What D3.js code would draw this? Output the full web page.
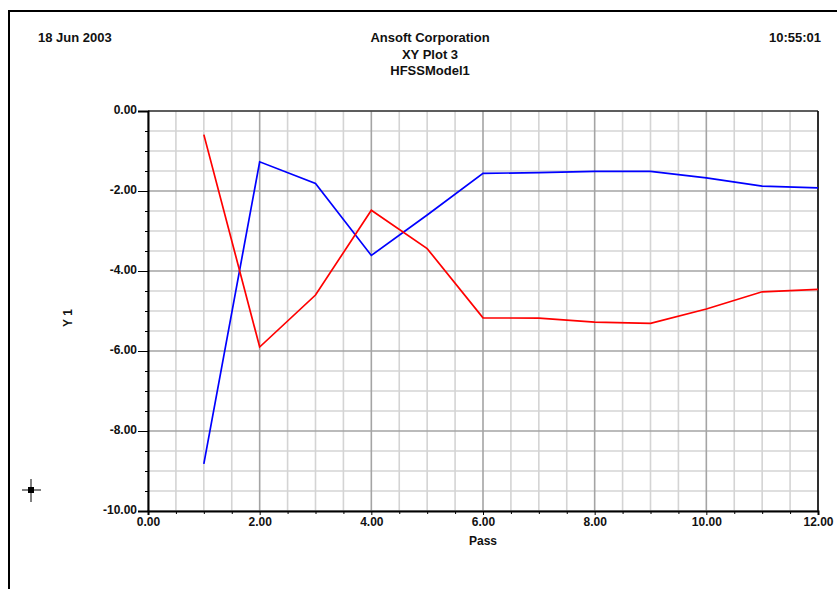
<!DOCTYPE html>
<html><head><meta charset="utf-8">
<script src="https://cdn.jsdelivr.net/npm/d3@7"></script>
<style>body{margin:0;background:#fff;}svg{display:block;}text{font-family:"Liberation Sans",Arial,sans-serif;font-weight:bold;fill:#111;}</style>
</head><body><svg id="c" width="837" height="589"></svg>
<script>
const passes = [1,2,3,4,5,6,7,8,9,10,11,12];
const blueVals = [-8.82,-1.27,-1.81,-3.61,-2.6,-1.56,-1.54,-1.51,-1.51,-1.67,-1.88,-1.92];
const redVals = [-0.59,-5.9,-4.6,-2.48,-3.44,-5.17,-5.18,-5.28,-5.31,-4.95,-4.52,-4.46];
const xTicks = [0,2,4,6,8,10,12];
const yTicks = [0,-2,-4,-6,-8,-10];
const titleLines = ["Ansoft Corporation","XY Plot 3","HFSSModel1"];
const dateText = "18 Jun 2003", timeText = "10:55:01";

const svg = d3.select("#c");
const L=148,R=818,T=111,B=511;
const x = d3.scaleLinear().domain([0,12]).range([L,R]);
const y = d3.scaleLinear().domain([-10,0]).range([B,T]);

// outer frame
svg.append("rect").attr("x",9).attr("y",11).attr("width",900).attr("height",700)
  .attr("fill","none").attr("stroke","#000").attr("stroke-width",2);

// header
svg.append("text").attr("x",38).attr("y",42).attr("font-size",13).text(dateText);
svg.append("text").attr("x",821).attr("y",42).attr("font-size",13).attr("text-anchor","end").text(timeText);
titleLines.forEach((t,i)=>svg.append("text").attr("x",430).attr("y",42+16.5*i)
  .attr("font-size",13).attr("text-anchor","middle").text(t));

// grid
const g = svg.append("g");
const minorX = d3.range(0,12.01,0.5), minorY = d3.range(-10,0.01,0.5);
g.selectAll(".mx").data(minorX.filter(v=>v%2!==0)).join("line")
  .attr("x1",d=>x(d)).attr("x2",d=>x(d)).attr("y1",T).attr("y2",B)
  .attr("stroke","#d4d4d4").attr("stroke-width",1.6);
g.selectAll(".my").data(minorY.filter(v=>v%2!==0)).join("line")
  .attr("y1",d=>y(d)).attr("y2",d=>y(d)).attr("x1",L).attr("x2",R)
  .attr("stroke","#d4d4d4").attr("stroke-width",1.6);
g.selectAll(".Mx").data(xTicks).join("line")
  .attr("x1",d=>x(d)).attr("x2",d=>x(d)).attr("y1",T).attr("y2",B)
  .attr("stroke","#a4a4a4").attr("stroke-width",1.6);
g.selectAll(".My").data(yTicks).join("line")
  .attr("y1",d=>y(d)).attr("y2",d=>y(d)).attr("x1",L).attr("x2",R)
  .attr("stroke","#a4a4a4").attr("stroke-width",1.6);

// plot frame
svg.append("line").attr("x1",L).attr("x2",R).attr("y1",T).attr("y2",T).attr("stroke","#000").attr("stroke-width",1);
svg.append("line").attr("x1",R).attr("x2",R).attr("y1",T).attr("y2",B).attr("stroke","#000").attr("stroke-width",1.5);

// axes
const f2 = d3.format(".2f");
const fmt = v => f2(v).replace("\u2212","-");
const yAxis = d3.axisLeft(y).tickValues(yTicks).tickFormat(fmt).tickSize(10).tickPadding(1);
const yAx = svg.append("g").attr("transform",`translate(${L},0)`).call(yAxis);
const yMinor = d3.axisLeft(y).tickValues(minorY.filter(v=>v%2!==0)).tickFormat("").tickSize(3);
svg.append("g").attr("transform",`translate(${L},0)`).call(yMinor).select(".domain").remove();
const xAxis = d3.axisBottom(x).tickValues(xTicks).tickFormat(fmt).tickSize(4).tickPadding(2);
const xAx = svg.append("g").attr("transform",`translate(0,${B})`).call(xAxis);
const xMinor = d3.axisBottom(x).tickValues(minorX.filter(v=>v%2!==0)).tickFormat("").tickSize(3);
svg.append("g").attr("transform",`translate(0,${B})`).call(xMinor).select(".domain").remove();
svg.selectAll(".domain").attr("stroke","#000").attr("stroke-width",2);
svg.selectAll(".tick line").attr("stroke","#000");
svg.selectAll(".tick text").attr("font-size",12).attr("font-family","Liberation Sans, Arial, sans-serif")
  .attr("font-weight","bold").attr("fill","#111");
yAx.selectAll(".tick text").attr("dy","0.2em");

// axis labels
svg.append("text").attr("x",483).attr("y",545).attr("font-size",12).attr("text-anchor","middle").text("Pass");
svg.append("text").attr("transform","translate(72,318) rotate(-90)").attr("font-size",12)
  .attr("text-anchor","middle").text("Y 1");

// series
const line = d3.line().x((d,i)=>x(passes[i])).y(d=>y(d));
svg.append("path").datum(blueVals).attr("d",line).attr("fill","none").attr("stroke","#0000ff").attr("stroke-width",1.7);
svg.append("path").datum(redVals).attr("d",line).attr("fill","none").attr("stroke","#ff0000").attr("stroke-width",1.7);

// cursor marker
const cur = svg.append("g").attr("transform","translate(31,490)");
cur.append("line").attr("x1",-9).attr("x2",10).attr("y1",0).attr("y2",0).attr("stroke","#000").attr("stroke-width",1);
cur.append("line").attr("x1",0).attr("x2",0).attr("y1",-11).attr("y2",12).attr("stroke","#000").attr("stroke-width",1);
cur.append("rect").attr("x",-3).attr("y",-3).attr("width",6).attr("height",6).attr("fill","#000");
</script></body></html>
